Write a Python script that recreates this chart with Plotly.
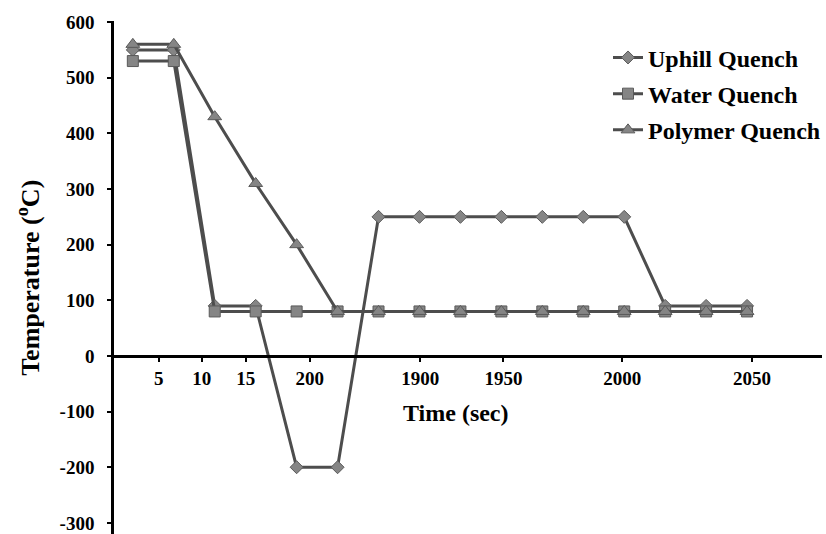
import plotly.graph_objects as go

# ---- data ----
step_index = list(range(16))
uphill = [550, 550, 90, 90, -200, -200, 250, 250, 250, 250, 250, 250, 250, 90, 90, 90]
water = [530, 530, 80, 80, 80, 80, 80, 80, 80, 80, 80, 80, 80, 80, 80, 80]
polymer = [560, 560, 430, 310, 200, 80, 80, 80, 80, 80, 80, 80, 80, 80, 80, 80]

tick_labels = ["5", "10", "15", "200", "1900", "1950", "2000", "2050"]
tick_positions = [0.63, 1.68, 2.76, 4.32, 7.02, 9.05, 11.95, 15.12]

y_ticks = [-300, -200, -100, 0, 100, 200, 300, 400, 500, 600]
y_tick_labels = ["-300", "-200", "-100", "0", "100", "200", "300", "400", "500", "600"]

y_range = [-320, 602]
x_range = [-0.46, 16.83]

FONT = "Liberation Serif"
LINE_C = "#4d4d4d"
MARK_C = "#858585"

fig = go.Figure()
series = [
    ("Uphill Quench", uphill, "diamond", 10),
    ("Water Quench", water, "square", 11),
    ("Polymer Quench", polymer, "triangle-up", 12),
]
for i, (name, vals, sym, size) in enumerate(series):
    fig.add_trace(go.Scatter(
        x=step_index, y=vals, name=name, mode="lines+markers",
        line=dict(color=LINE_C, width=3),
        marker=dict(symbol=sym, size=size, color=MARK_C,
                    line=dict(color="#5a5a5a", width=1)),
        legendgroup=f"g{i}",
    ))

zero_pos = -y_range[0] / (y_range[1] - y_range[0])

fig.update_layout(
    width=826, height=534,
    margin=dict(l=114, r=3, t=21, b=0),
    paper_bgcolor="white", plot_bgcolor="white",
    font=dict(family=FONT, color="black"),
    showlegend=True,
    legend=dict(
        x=0.698, y=0.972, xanchor="left", yanchor="top",
        font=dict(family=FONT, size=24, weight="bold", color="black"),
        bgcolor="rgba(0,0,0,0)", tracegroupgap=2,
        itemwidth=30,
    ),
    xaxis=dict(
        range=x_range, anchor="free", position=zero_pos,
        showgrid=False, zeroline=False,
        showline=True, linecolor="black", linewidth=2.5,
        ticks="outside", ticklen=4, tickwidth=2, tickcolor="black",
        tickmode="array", tickvals=tick_positions, ticktext=tick_labels,
        tickfont=dict(family=FONT, size=19, weight="bold", color="black"),
        ticklabelstandoff=0,
    ),
    yaxis=dict(
        range=y_range, showgrid=False, zeroline=False,
        showline=True, linecolor="black", linewidth=2.5,
        ticks="outside", ticklen=4, tickwidth=1.5, tickcolor="black",
        tickmode="array", tickvals=y_ticks, ticktext=y_tick_labels,
        tickfont=dict(family=FONT, size=19, weight="bold", color="black"),
        ticklabelstandoff=9,
    ),
    annotations=[
        dict(text="Time (sec)", xref="paper", yref="y", x=0.483, y=-103,
             showarrow=False, xanchor="center", yanchor="middle",
             font=dict(family=FONT, size=24, weight="bold", color="black")),
        dict(text="Temperature (<sup>o</sup>C)", xref="paper", yref="paper",
             x=-0.121, y=0.5, textangle=-90, showarrow=False,
             xanchor="center", yanchor="middle",
             font=dict(family=FONT, size=26, weight="bold", color="black")),
    ],
)

fig.write_html("out.html")
